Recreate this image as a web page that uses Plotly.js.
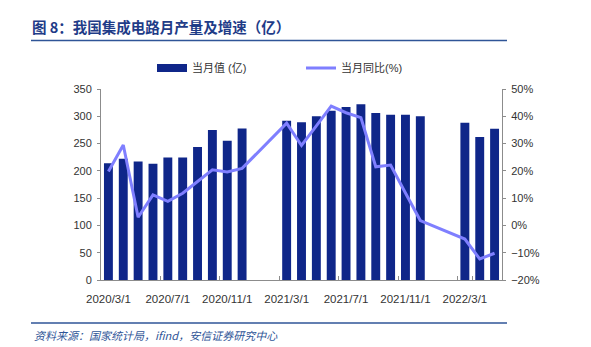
<!DOCTYPE html>
<html>
<head>
<meta charset="utf-8">
<script src="https://cdn.plot.ly/plotly-3.0.1.min.js"></script>
<style>
html,body{margin:0;padding:0;background:#fff;}
#chart{width:591px;height:347px;}
</style>
</head>
<body>
<div id="chart"></div>
<script>
var months = [
  '2020/3/1','2020/4/1','2020/5/1','2020/6/1','2020/7/1','2020/8/1','2020/9/1','2020/10/1','2020/11/1','2020/12/1',
  '2021/1/1','2021/2/1','2021/3/1','2021/4/1','2021/5/1','2021/6/1','2021/7/1','2021/8/1','2021/9/1','2021/10/1','2021/11/1','2021/12/1',
  '2022/1/1','2022/2/1','2022/3/1','2022/4/1','2022/5/1'
];
var output = [
  214, 222, 217, 213, 224.5, 224.5, 243.5, 275, 255, 277.5,
  null, null, 292, 289, 300, 310, 317, 322, 306, 303, 303, 300,
  null, null, 288, 262, 277
];
var growth = [
  19.8, 29.5, 3.0, 11.2, 8.8, 11.8, 16.1, 20.4, 19.6, 20.9,
  null, null, 37.5, 29.3, 36.5, 43.7, 41.3, 39.5, 21.5, 22.1, 11.9, 1.8,
  null, null, -5.0, -12.3, -10.2
];
var tickLabels = ['2020/3/1','2020/7/1','2020/11/1','2021/3/1','2021/7/1','2021/11/1','2022/3/1'];

var barColor = '#0f2689';
var lineColor = '#7f7fff';
var txt = '#333333';
var axisCol = '#8c8c8c';
var fnt = 'Liberation Sans, Arial, Noto Sans CJK SC, sans-serif';
var narrow = 'Liberation Sans Narrow, Arial Narrow, Liberation Sans, sans-serif';

var traces = [
  {
    type: 'bar', x: months, y: output, name: '当月值 (亿)',
    marker: {color: barColor}, showlegend: false, hoverinfo: 'x+y'
  },
  {
    type: 'scatter', mode: 'lines', x: [null], y: [null], name: '当月值 (亿)',
    line: {color: barColor, width: 8}, showlegend: true
  },
  {
    type: 'scatter', mode: 'lines', x: months, y: growth, name: '当月同比(%)',
    yaxis: 'y2', connectgaps: true,
    line: {color: lineColor, width: 3}
  }
];

var layout = {
  width: 591, height: 347,
  margin: {l: 101, r: 89, t: 89, b: 67},
  paper_bgcolor: '#fff', plot_bgcolor: '#fff',
  font: {family: fnt, size: 11, color: txt},
  bargap: 0.4,
  title: {
    text: '图 8：我国集成电路月产量及增速（亿）',
    font: {family: 'Noto Sans CJK SC, sans-serif', size: 14.5, color: '#1f3c88', weight: 'bold'},
    x: 32/591, xanchor: 'left', xref: 'container',
    y: 1 - 28/347, yanchor: 'middle', yref: 'container'
  },
  legend: {
    orientation: 'h',
    x: 152/591, xanchor: 'left', xref: 'container',
    y: 1 - 68/347, yanchor: 'middle', yref: 'container',
    font: {family: fnt, size: 11, color: txt},
    entrywidth: 104, entrywidthmode: 'pixels',
    itemwidth: 30,
    bgcolor: 'rgba(0,0,0,0)'
  },
  xaxis: {
    type: 'category',
    categoryorder: 'array', categoryarray: months,
    tickmode: 'array', tickvals: tickLabels, ticktext: tickLabels,
    tickson: 'boundaries', tickangle: 0,
    ticks: 'inside', ticklen: 4, tickcolor: axisCol,
    ticklabelstandoff: 8,
    showline: true, linecolor: axisCol, linewidth: 1,
    showgrid: false, zeroline: false,
    tickfont: {family: narrow, size: 11.5, color: txt},
    range: [-0.5, 26.5], fixedrange: true
  },
  yaxis: {
    range: [0, 350], dtick: 50, tick0: 0,
    showline: true, linecolor: axisCol, linewidth: 1,
    ticks: 'outside', ticklen: 3, tickcolor: axisCol,
    showgrid: false, zeroline: false,
    tickfont: {family: fnt, size: 11, color: txt},
    ticklabelstandoff: 3
  },
  yaxis2: {
    overlaying: 'y', side: 'right',
    range: [-20, 50], dtick: 10, tick0: 0, ticksuffix: '%',
    showline: true, linecolor: axisCol, linewidth: 1,
    ticks: 'outside', ticklen: 3, tickcolor: axisCol,
    showgrid: false, zeroline: false,
    tickfont: {family: fnt, size: 11, color: txt},
    ticklabelstandoff: 3
  },
  shapes: [
    {type: 'line', xref: 'paper', yref: 'paper',
     x0: (31-101)/401, x1: (507-101)/401, y0: (280-40.5)/191, y1: (280-40.5)/191,
     line: {color: '#2f5597', width: 1.5}},
    {type: 'line', xref: 'paper', yref: 'paper',
     x0: (31-101)/401, x1: (507-101)/401, y0: (280-323)/191, y1: (280-323)/191,
     line: {color: '#2f5597', width: 1.5}}
  ],
  annotations: [
    {text: '资料来源：国家统计局，ifind，安信证券研究中心',
     xref: 'paper', yref: 'paper', showarrow: false,
     x: (32-101)/401, xanchor: 'left', y: (280-335)/191, yanchor: 'middle',
     font: {family: 'Noto Sans CJK SC, sans-serif', size: 11, color: '#2f5597', style: 'italic'}}
  ]
};

Plotly.newPlot('chart', traces, layout, {displayModeBar: false, staticPlot: true});
</script>
</body>
</html>
